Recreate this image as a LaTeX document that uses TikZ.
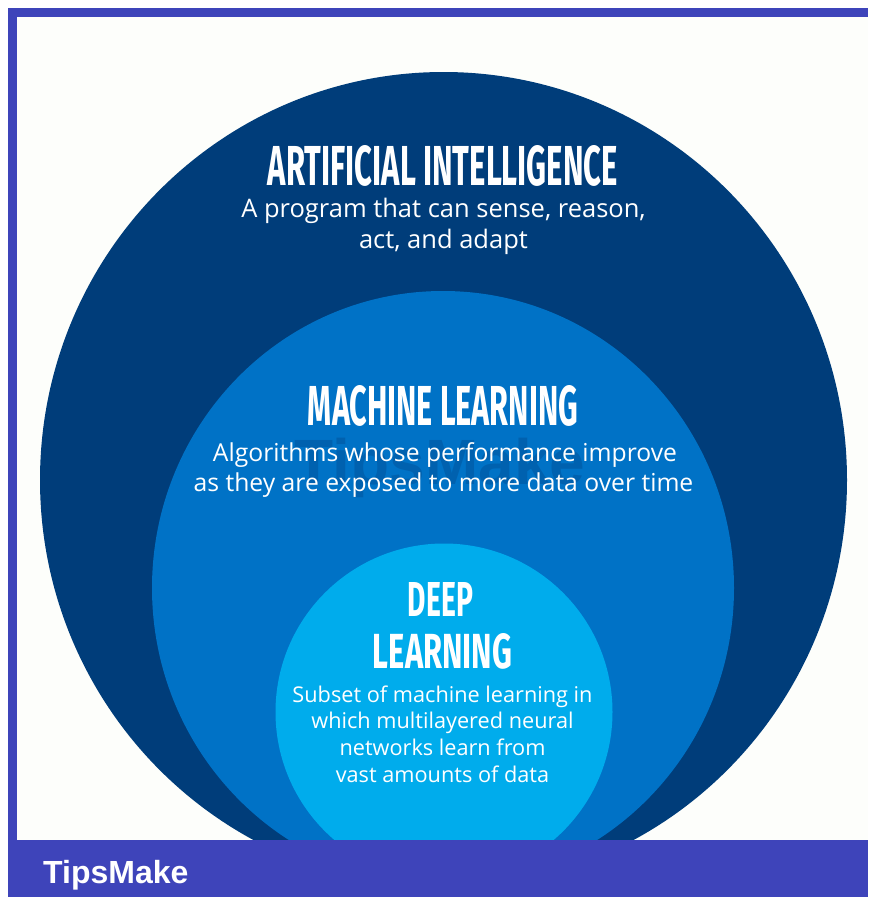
\documentclass[tikz,border=0pt]{standalone}
\usepackage{fontspec}
\setmainfont{Open Sans}
\newfontfamily\titlefont{Fira Sans}
\newfontfamily\brandfont{Liberation Sans}
\definecolor{frameblue}{RGB}{62,68,186}
\definecolor{aiblue}{RGB}{0,61,122}
\definecolor{mlblue}{RGB}{0,114,198}
\definecolor{dlblue}{RGB}{0,172,236}
\definecolor{pagewhite}{RGB}{253,254,251}
\tikzset{
  titletext/.style={text=white, inner sep=0pt, anchor=north},
  bodytext/.style={text=white, inner sep=0pt, anchor=base},
  aibody/.style={bodytext, font=\fontsize{25.5}{30}\selectfont},
  mlbody/.style={bodytext, font=\fontsize{24.7}{30}\selectfont},
  dlbody/.style={bodytext, font=\fontsize{21.7}{26}\selectfont},
}
\newcommand{\ttl}[3]{\resizebox{#1pt}{#2pt}{\titlefont\bfseries #3}}
\begin{document}
\begin{tikzpicture}[x=1pt,y=-1pt]
\useasboundingbox (0,0) rectangle (868,897);
\fill[white] (0,0) rectangle (868,897);
\fill[pagewhite] (17,17) rectangle (868,840);
% circles
\fill[aiblue] (443.5,480) ellipse[x radius=403.5, y radius=408];
\fill[mlblue] (443,588) ellipse[x radius=291, y radius=297];
\fill[dlblue] (444,712) circle[radius=168.5];
% frame
\fill[frameblue] (8,8) rectangle (868,17);
\fill[frameblue] (8,8) rectangle (17,840);
\fill[frameblue] (8,840) rectangle (868,897);
% texts
\node[titletext] (ait) at (443,145) {\ttl{350}{40}{ARTIFICIAL INTELLIGENCE}};
\node[aibody] (aib1) at (443.5,217) {A program that can sense, reason,};
\node[aibody] (aib2) at (443.5,248) {act, and adapt};
\node[titletext] (mlt) at (443,385) {\ttl{270}{40}{MACHINE LEARNING}};
\node[text=aiblue, opacity=0.3, inner sep=0pt, anchor=base, font=\brandfont\bfseries\fontsize{64}{68}\selectfont] (wm) at (440,484) {TipsMake};
\node[mlbody] (mlb1) at (445,461) {Algorithms whose performance improve};
\node[mlbody] (mlb2) at (443.5,491) {as they are exposed to more data over time};
\node[titletext] (dlt1) at (440.5,582) {\ttl{65}{34}{DEEP}};
\node[titletext] (dlt2) at (442.5,633) {\ttl{139}{35}{LEARNING}};
\node[dlbody] (dlb1) at (442.5,702) {Subset of machine learning in};
\node[dlbody] (dlb2) at (442.5,728) {which multilayered neural};
\node[dlbody] (dlb3) at (442.5,755) {networks learn from};
\node[dlbody] (dlb4) at (442.5,782) {vast amounts of data};
\node[text=white, inner sep=0pt, anchor=base west, font=\brandfont\bfseries\fontsize{32}{34}\selectfont] (brand) at (43,883) {TipsMake};
\end{tikzpicture}
\end{document}
